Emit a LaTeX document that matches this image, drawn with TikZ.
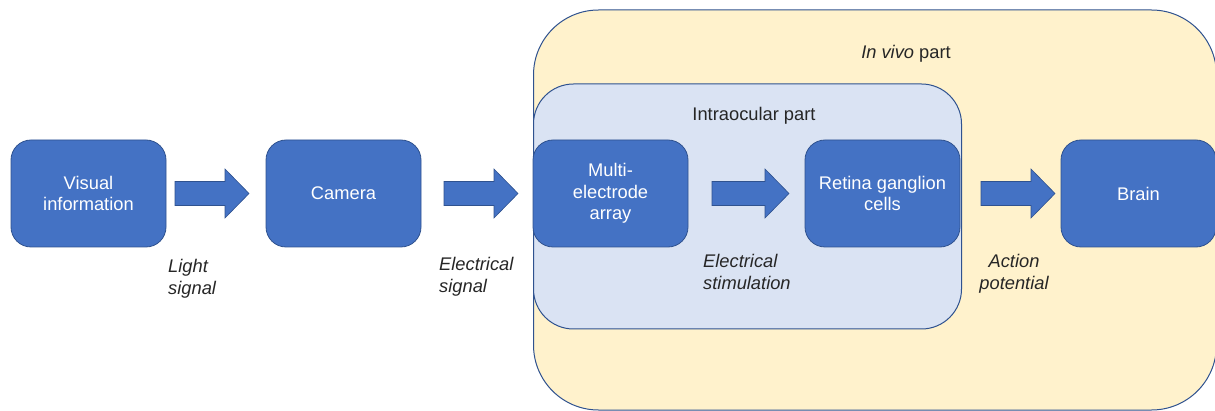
\documentclass[tikz,border=0pt]{standalone}
\usepackage{fontspec}
\setmainfont{Liberation Sans}
\usetikzlibrary{positioning, calc}

\definecolor{boxblue}{HTML}{4472C4}
\definecolor{boxline}{HTML}{2F528F}
\definecolor{vivofill}{HTML}{FFF2CC}
\definecolor{ocularfill}{HTML}{DAE3F3}
\definecolor{inktext}{HTML}{262626}

\newcommand{\diagfont}{\fontsize{18.3pt}{21.5pt}\selectfont}

\tikzset{
  block/.style={rectangle, rounded corners=20pt, draw=boxline, line width=0.8pt, fill=boxblue, text=white, minimum width=155pt, minimum height=107pt, inner sep=2pt, outer sep=0pt, align=center, font=\diagfont},
  area/.style={rectangle, draw=boxline, line width=1pt, inner sep=0pt},
  areatext/.style={text=inktext, inner sep=0pt, font=\diagfont},
  note/.style={text=inktext, inner sep=0pt, align=left, font=\diagfont\itshape},
  flow/.style={fill=boxblue, draw=boxline, line width=0.6pt}
}

% block arrow: from node #1 (gap #2) to node #3 (gap #4)
\newcommand{\flowarrow}[4]{%
  \path[flow] let \p1=($(#1.east)+(#2,0)$), \p2=($(#3.west)+(-#4,0)$) in
    (\x1,\y1+12pt) -- (\x2-24pt,\y1+12pt) -- (\x2-24pt,\y1+24.5pt) -- (\x2,\y2)
    -- (\x2-24pt,\y1-24.5pt) -- (\x2-24pt,\y1-12pt) -- (\x1,\y1-12pt) -- cycle;}

\begin{document}
\begin{tikzpicture}[x=1pt, y=-1pt]
\useasboundingbox (0,0) rectangle (1215,411);

%%% IN VIVO PART
\node [area, rounded corners=65pt, fill=vivofill, minimum width=683pt, minimum height=400pt] (invivo) at (875,210) {};
\node [areatext] (invivo-label) at (906,54) {\textit{In vivo} part};

%%% INTRAOCULAR PART
\node [area, rounded corners=40pt, fill=ocularfill, minimum width=428pt, minimum height=245pt] (intraocular) at (747.5,206.5) {};
\node [areatext] (intraocular-label) at (754,116) {Intraocular part};

%%% BLOCKS
\node [block] (visual) at (88.5,193.5) {Visual\\information};
\node [block, right=100pt of visual] (camera) {Camera};
\node [block, right=112pt of camera] (multi) {Multi-\\electrode\\array};
\node [block, right=117pt of multi] (retina) {Retina ganglion\\cells};
\node [block, right=101pt of retina] (brain) {Brain};

%%% SIGNAL LABELS
\node [note, anchor=west] (light) at (168,279) {Light\\signal};
\node [note, anchor=west] (elsignal) at (439,277) {Electrical\\signal};
\node [note, anchor=west] (stimulation) at (703,272) {Electrical\\stimulation};
\node [note, align=center] (potential) at (1014,274) {Action\\potential};

%%% connections, arrows
\flowarrow{visual}{9}{camera}{17}
\flowarrow{camera}{23}{multi}{15}
\flowarrow{multi}{24}{retina}{16}
\flowarrow{retina}{21}{brain}{6}

\end{tikzpicture}
\end{document}
